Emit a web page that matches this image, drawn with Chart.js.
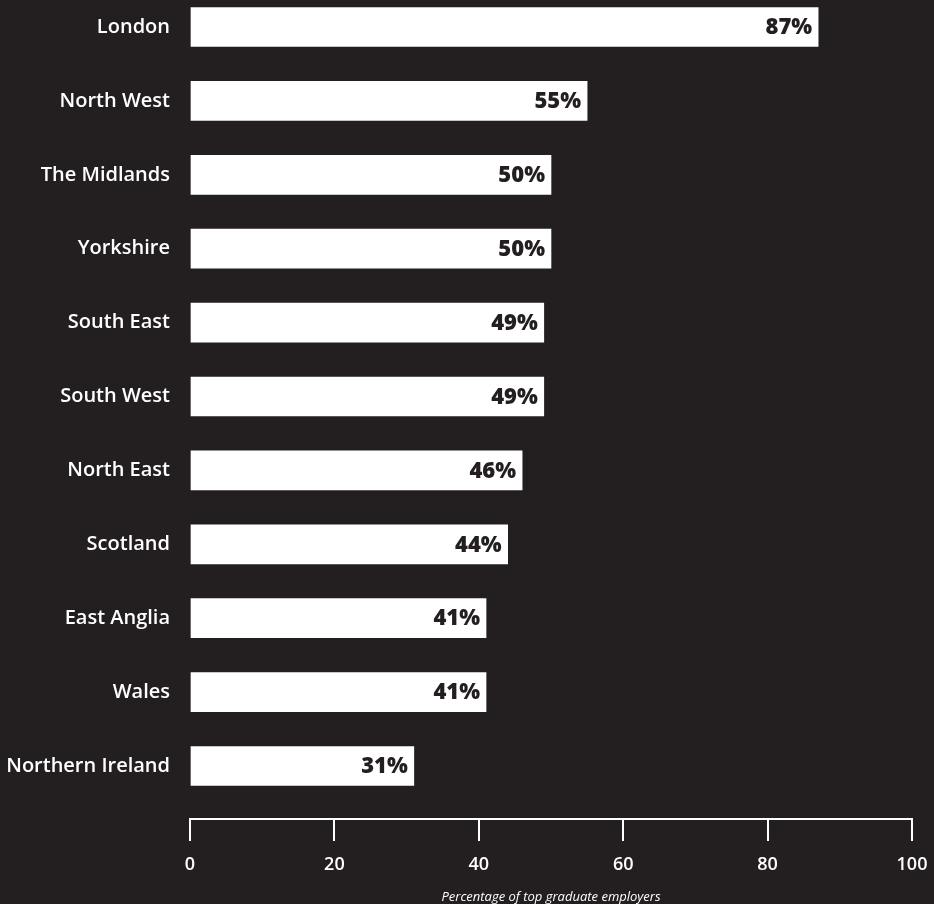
<!DOCTYPE html>
<html>
<head>
<meta charset="utf-8">
<script src="https://cdn.jsdelivr.net/npm/chart.js@4"></script>
<style>
    html, body { margin: 0; padding: 0; background: #231f20; }
    #wrap { width: 934px; height: 904px; }
</style>
</head>
<body>
<div id="wrap"><canvas id="regions"></canvas></div>
<script>
const regions = ["London", "North West", "The Midlands", "Yorkshire", "South East", "South West",
    "North East", "Scotland", "East Anglia", "Wales", "Northern Ireland"];
const shares = [87, 55, 50, 50, 49, 49, 46, 44, 41, 41, 31];
const axisTicks = [0, 20, 40, 60, 80, 100];

const BG = "#231f20";
const FONT = "'Open Sans', 'DejaVu Sans', sans-serif";

// percentage written inside the right end of each bar
const valueLabels = {
    id: "valueLabels",
    afterDatasetsDraw(chart) {
        const ctx = chart.ctx;
        const meta = chart.getDatasetMeta(0);
        ctx.save();
        ctx.fillStyle = BG;
        ctx.font = "800 22px " + FONT;
        ctx.textAlign = "right";
        ctx.textBaseline = "middle";
        meta.data.forEach((bar, i) => {
            ctx.fillText(shares[i] + "%", bar.x - 6, bar.y + 1);
        });
        ctx.restore();
    }
};

new Chart(document.getElementById("regions").getContext("2d"), {
    type: "bar",
    data: {
        labels: regions,
        datasets: [{
            data: shares,
            backgroundColor: "#ffffff",
            borderWidth: 0,
            barThickness: 39,
            clip: false
        }]
    },
    options: {
        indexAxis: "y",
        responsive: true,
        maintainAspectRatio: false,
        animation: false,
        layout: { padding: { top: 27, bottom: 138, left: 0, right: 22 } },
        plugins: {
            legend: { display: false },
            tooltip: { enabled: false }
        },
        scales: {
            y: {
                offset: false,
                grid: { display: false },
                border: { display: false },
                ticks: {
                    color: "#ffffff",
                    padding: 12,
                    font: { family: FONT, size: 20, weight: "600" }
                },
                afterFit: s => { s.width = 190; }
            },
            x: {
                position: { y: 10.72 },
                min: 0,
                max: 100,
                afterBuildTicks: s => { s.ticks = axisTicks.map(v => ({ value: v })); },
                // the "100" label may hang past the plot edge
                afterFit: s => { s.paddingLeft = 0; s.paddingRight = 0; },
                grid: {
                    drawOnChartArea: false,
                    color: "#ffffff",
                    lineWidth: 2,
                    tickLength: 21
                },
                border: { color: "#ffffff", width: 2 },
                ticks: {
                    color: "#ffffff",
                    padding: 14,
                    maxRotation: 0,
                    font: { family: FONT, size: 18, weight: "600" }
                },
                title: {
                    display: true,
                    text: "Percentage of top graduate employers",
                    color: "#ffffff",
                    padding: { top: 0, bottom: 0 },
                    font: { family: FONT, size: 13, style: "italic" }
                }
            }
        }
    },
    plugins: [valueLabels]
});
</script>
</body>
</html>
